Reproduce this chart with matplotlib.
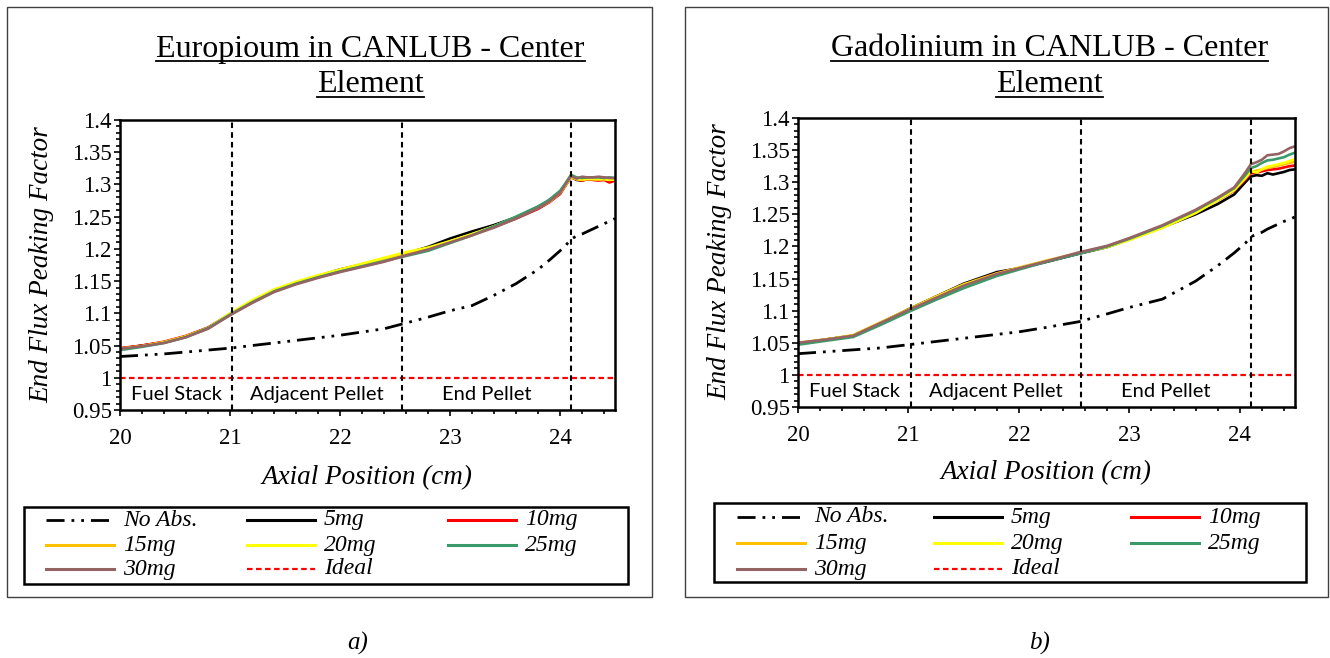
import matplotlib
matplotlib.use('Agg')
import matplotlib.pyplot as plt
from matplotlib.lines import Line2D
from matplotlib.patches import Rectangle
from matplotlib.ticker import MultipleLocator, FuncFormatter

plt.rcParams['font.family'] = ['Liberation Serif', 'DejaVu Serif']
plt.rcParams['lines.scale_dashes'] = False

# ---- data ----
series_labels = ['5mg', '10mg', '15mg', '20mg', '25mg', '30mg']
series_colors = ['#000000', '#FF0000', '#FFC000', '#FFFF00', '#3A9A6A', '#946464']

region_names = ['Fuel Stack', 'Adjacent Pellet', 'End Pellet']
region_edges = [20.0, 21.02, 22.56, 24.1]
ideal_value = 1.0

# Europium
x_eu = [20.0, 20.2, 20.4, 20.6, 20.8, 21.0, 21.2, 21.4, 21.6, 21.8, 22.0, 22.2, 22.4, 22.6, 22.8, 23.0,
        23.2, 23.4, 23.6, 23.8, 23.9, 24.0, 24.05, 24.1, 24.15, 24.2, 24.25, 24.3, 24.35, 24.4, 24.45, 24.5]
eu_noabs = [1.033, 1.035, 1.037, 1.040, 1.043, 1.046, 1.050, 1.054, 1.058, 1.062, 1.066, 1.071, 1.076, 1.085,
            1.094, 1.104, 1.112, 1.128, 1.146, 1.168, 1.182, 1.197, 1.205, 1.215, 1.220, 1.223, 1.227, 1.231,
            1.235, 1.239, 1.243, 1.247]
eu_5 = [1.045, 1.050, 1.055, 1.064, 1.077, 1.098, 1.117, 1.134, 1.147, 1.158, 1.168, 1.176, 1.184, 1.193,
        1.203, 1.216, 1.227, 1.237, 1.249, 1.264, 1.273, 1.287, 1.299, 1.312, 1.307, 1.306, 1.309, 1.310,
        1.309, 1.310, 1.309, 1.309]
eu_10 = [1.046, 1.050, 1.056, 1.065, 1.078, 1.099, 1.118, 1.136, 1.147, 1.156, 1.165, 1.174, 1.182, 1.191,
         1.200, 1.211, 1.222, 1.234, 1.247, 1.262, 1.272, 1.285, 1.298, 1.311, 1.308, 1.306, 1.308, 1.307,
         1.306, 1.307, 1.303, 1.306]
eu_15 = [1.045, 1.049, 1.055, 1.064, 1.077, 1.099, 1.119, 1.136, 1.148, 1.157, 1.167, 1.175, 1.184, 1.193,
         1.201, 1.211, 1.222, 1.235, 1.249, 1.264, 1.273, 1.287, 1.299, 1.312, 1.309, 1.307, 1.308, 1.309,
         1.308, 1.309, 1.308, 1.308]
eu_20 = [1.045, 1.049, 1.055, 1.064, 1.077, 1.100, 1.120, 1.137, 1.149, 1.159, 1.168, 1.177, 1.186, 1.195,
         1.202, 1.212, 1.223, 1.235, 1.249, 1.264, 1.273, 1.287, 1.299, 1.312, 1.308, 1.308, 1.309, 1.308,
         1.308, 1.308, 1.307, 1.308]
eu_25 = [1.043, 1.048, 1.054, 1.063, 1.077, 1.098, 1.117, 1.134, 1.146, 1.156, 1.165, 1.173, 1.181, 1.189,
         1.197, 1.209, 1.221, 1.235, 1.250, 1.266, 1.276, 1.290, 1.302, 1.315, 1.311, 1.310, 1.311, 1.311,
         1.311, 1.310, 1.311, 1.310]
eu_30 = [1.045, 1.049, 1.054, 1.063, 1.076, 1.097, 1.116, 1.133, 1.145, 1.155, 1.164, 1.172, 1.180, 1.190,
         1.199, 1.210, 1.221, 1.233, 1.247, 1.263, 1.273, 1.287, 1.300, 1.313, 1.309, 1.312, 1.311, 1.311,
         1.312, 1.311, 1.310, 1.310]

# Gadolinium
x_gd = [20.0, 20.25, 20.5, 20.75, 21.0, 21.25, 21.5, 21.8, 22.0, 22.25, 22.55, 22.8, 23.0, 23.3, 23.6,
        23.8, 23.95, 24.05, 24.1, 24.15, 24.2, 24.25, 24.3, 24.35, 24.4, 24.45, 24.5]
gd_noabs = [1.033, 1.036, 1.039, 1.042, 1.047, 1.052, 1.057, 1.063, 1.067, 1.074, 1.083, 1.095, 1.105,
            1.118, 1.146, 1.170, 1.190, 1.205, 1.215, 1.219, 1.222, 1.227, 1.231, 1.235, 1.239, 1.242, 1.246]
gd_5 = [1.049, 1.055, 1.061, 1.081, 1.102, 1.122, 1.142, 1.160, 1.166, 1.176, 1.189, 1.199, 1.211, 1.230,
        1.250, 1.266, 1.281, 1.300, 1.309, 1.311, 1.310, 1.314, 1.312, 1.314, 1.316, 1.319, 1.320]
gd_10 = [1.049, 1.055, 1.061, 1.081, 1.101, 1.121, 1.140, 1.158, 1.166, 1.177, 1.190, 1.200, 1.212, 1.231,
         1.254, 1.272, 1.287, 1.304, 1.314, 1.315, 1.317, 1.319, 1.320, 1.321, 1.323, 1.325, 1.326]
gd_15 = [1.050, 1.055, 1.062, 1.082, 1.102, 1.122, 1.141, 1.158, 1.167, 1.178, 1.190, 1.200, 1.212, 1.231,
         1.254, 1.273, 1.288, 1.306, 1.316, 1.318, 1.320, 1.322, 1.324, 1.326, 1.328, 1.330, 1.332]
gd_20 = [1.049, 1.055, 1.061, 1.081, 1.101, 1.121, 1.140, 1.157, 1.166, 1.177, 1.190, 1.199, 1.210, 1.229,
         1.252, 1.272, 1.288, 1.307, 1.318, 1.315, 1.320, 1.324, 1.326, 1.328, 1.330, 1.333, 1.336]
gd_25 = [1.047, 1.053, 1.059, 1.078, 1.098, 1.117, 1.135, 1.154, 1.164, 1.176, 1.189, 1.200, 1.212, 1.232,
         1.256, 1.275, 1.291, 1.311, 1.322, 1.325, 1.330, 1.334, 1.335, 1.337, 1.339, 1.343, 1.346]
gd_30 = [1.050, 1.055, 1.061, 1.081, 1.101, 1.120, 1.139, 1.157, 1.166, 1.177, 1.191, 1.201, 1.213, 1.233,
         1.257, 1.276, 1.292, 1.315, 1.328, 1.331, 1.335, 1.342, 1.343, 1.344, 1.348, 1.353, 1.356]

W, H = 1330, 658
fig = plt.figure(figsize=(W / 100, H / 100), dpi=100)


def fx(px):
    return px / W


def fy(py):
    return 1 - py / H


noabs_style = dict(color='black', lw=2.0, ls=(0, (13, 5, 2, 5, 2, 5)))
ideal_style = dict(color='#FF0000', lw=1.6, ls=(0, (4, 2.5)))


def draw_panel(box, axbox, x, noabs, series, title, xlab, ylab, legbox, sub):
    # outer frame of the panel
    fig.add_artist(Rectangle((fx(box[0]), fy(box[3])), fx(box[2]) - fx(box[0]), fy(box[1]) - fy(box[3]),
                             transform=fig.transFigure, fill=False, ec='#404040', lw=1.0))
    l, t, r, b = axbox
    ax = fig.add_axes([fx(l), fy(b), fx(r) - fx(l), fy(t) - fy(b)])

    ax.plot(x, noabs, **noabs_style)
    for ys, c in zip(series, series_colors):
        ax.plot(x, ys, color=c, lw=1.9, solid_joinstyle='round')
    ax.axhline(ideal_value, **ideal_style)
    for e in region_edges[1:]:
        ax.axvline(e, color='black', lw=1.5, ls=(0, (4, 3)))
    for name, a, bb in zip(region_names, region_edges[:-1], region_edges[1:]):
        ax.text((a + bb) / 2, 0.974, name, ha='center', va='center', fontsize=14.5,
                family=['Lato', 'DejaVu Sans'])

    ax.set_xlim(20, 24.5)
    ax.set_ylim(0.95, 1.4)
    ax.xaxis.set_major_locator(MultipleLocator(1))
    ax.xaxis.set_minor_locator(MultipleLocator(0.2))
    ax.yaxis.set_major_locator(MultipleLocator(0.05))
    ax.yaxis.set_minor_locator(MultipleLocator(0.01))
    ax.yaxis.set_major_formatter(FuncFormatter(lambda v, p: '%g' % round(v, 2)))
    ax.tick_params(which='both', direction='out', color='black', width=1.2, labelsize=16.5, pad=2)
    ax.tick_params(which='major', length=4)
    ax.tick_params(which='minor', length=3)
    ax.tick_params(axis='x', pad=9)
    for s in ax.spines.values():
        s.set_linewidth(1.8)

    fig.text(fx(ylab[0]), fy(ylab[1]), 'End Flux Peaking Factor', rotation=90, ha='center', va='center',
             style='italic', fontsize=19.5)
    fig.text(fx(xlab[0]), fy(xlab[1]), 'Axial Position (cm)', ha='center', va='center',
             style='italic', fontsize=19.5)

    # title, two underlined lines
    cx = (l + r) / 2 + 3
    for line, yy in zip(title, [49, 85]):
        tx = fig.text(fx(cx), fy(yy), line, ha='center', va='center', fontsize=23)
        tx._underline = True

    # legend, three columns filled row by row
    lx0, ly0, lx1, ly1, cols, rows = legbox
    fig.add_artist(Rectangle((fx(lx0), fy(ly1)), fx(lx1) - fx(lx0), fy(ly0) - fy(ly1),
                             transform=fig.transFigure, fill=False, ec='black', lw=1.8))
    entries = [('No Abs.', noabs_style)]
    for lab, c in zip(series_labels, series_colors):
        entries.append((lab, dict(color=c, lw=2.2)))
    entries.append(('Ideal', ideal_style))
    for i, (lab, st) in enumerate(entries):
        cxl = cols[i % 3]
        ry = rows[i // 3]
        fig.add_artist(Line2D([fx(cxl), fx(cxl + 68)], [fy(ry), fy(ry)], transform=fig.transFigure, **st))
        fig.text(fx(cxl + 77), fy(ry), lab, ha='left', va='center', style='italic', fontsize=17)

    fig.text(fx(sub[0]), fy(sub[1]), sub[2], ha='center', va='center', style='italic', fontsize=18)
    return ax


draw_panel((7, 7, 652, 597), (120, 120, 615, 410), x_eu, eu_noabs,
           [eu_5, eu_10, eu_15, eu_20, eu_25, eu_30],
           ['Europioum in CANLUB - Center', 'Element'], (367, 478), (42, 265),
           (24, 507, 628, 584, [46, 247, 448], [520, 545, 569]), (358, 643, 'a)'))
draw_panel((685, 7, 1328, 597), (798, 118, 1295, 407), x_gd, gd_noabs,
           [gd_5, gd_10, gd_15, gd_20, gd_25, gd_30],
           ['Gadolinium in CANLUB - Center', 'Element'], (1046, 473), (720, 262),
           (714, 503, 1306, 582, [737, 934, 1131], [517, 543, 569]), (1040, 643, 'b)'))

# underline the title lines
fig.canvas.draw()
ren = fig.canvas.get_renderer()
for tx in fig.texts:
    if getattr(tx, '_underline', False):
        bb = tx.get_window_extent(ren)
        yline = bb.y0 + 3
        fig.add_artist(Line2D([bb.x0 / W, bb.x1 / W], [yline / H, yline / H],
                              transform=fig.transFigure, color='black', lw=1.3))

fig.savefig('out.png', dpi=100)
